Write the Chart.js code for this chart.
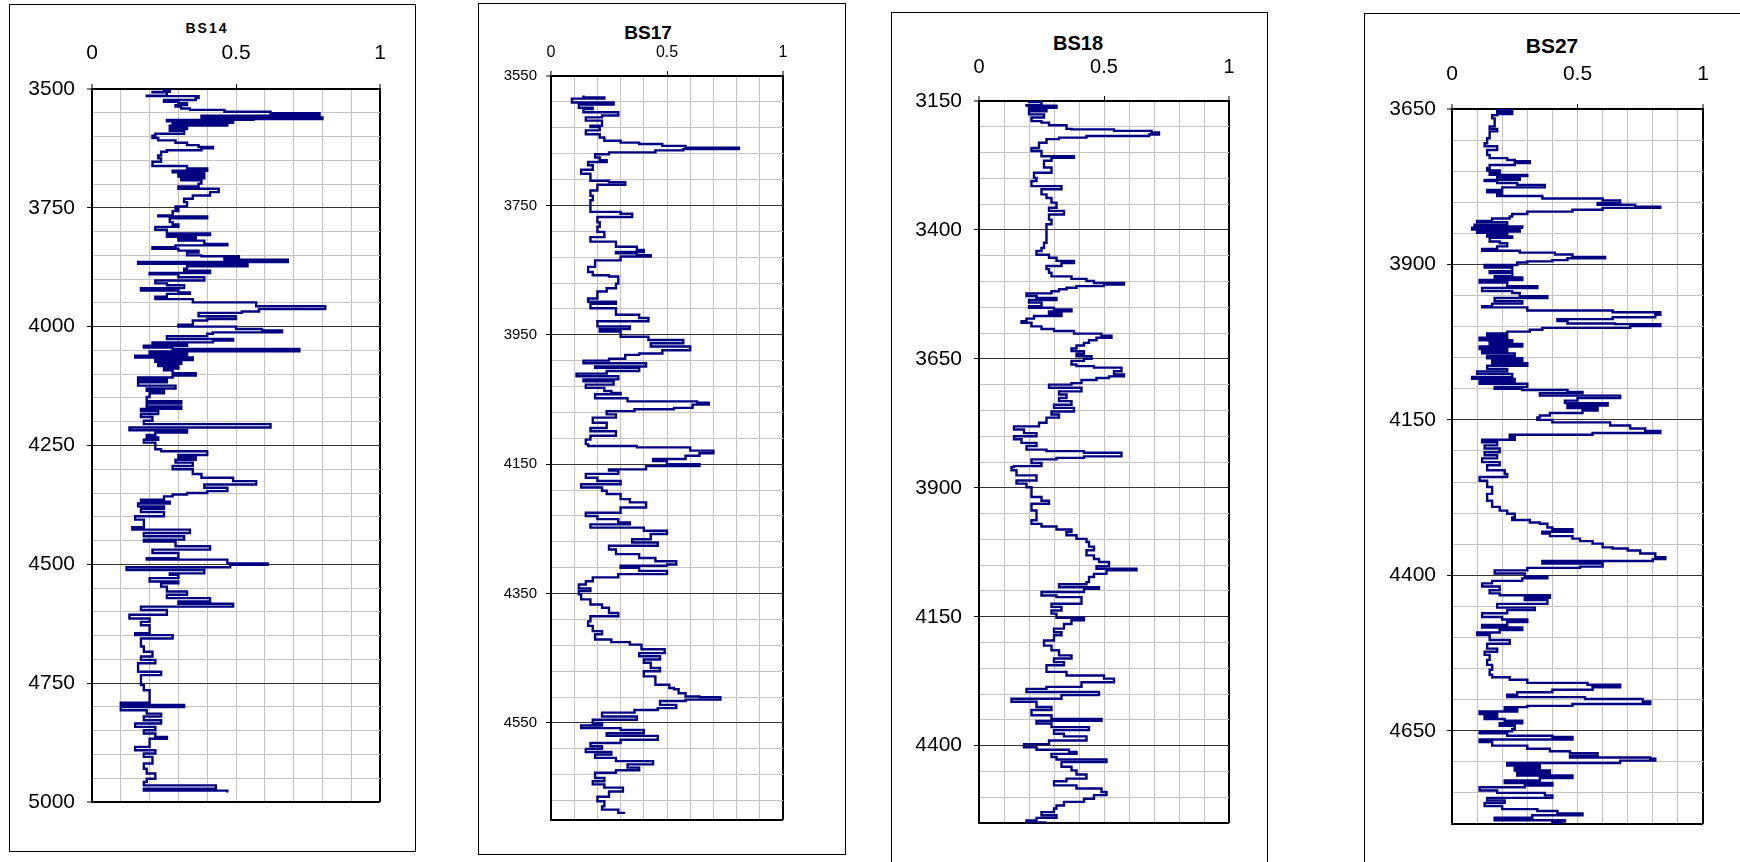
<!DOCTYPE html>
<html>
<head>
<meta charset="utf-8">
<script src="https://cdn.jsdelivr.net/npm/chart.js@4.4.1/dist/chart.umd.min.js"></script>
<style>
  html, body { margin: 0; padding: 0; background: #fff; }
  body { width: 1740px; height: 862px; position: relative; overflow: hidden; font-family: "Liberation Sans", Arial, sans-serif; }
  .box { position: absolute; border: 1px solid #000; box-sizing: border-box; }
  .wrap { position: absolute; }
  .ttl { position: absolute; font-weight: bold; color: #000; transform: translate(-50%, -50%); white-space: nowrap; line-height: 1; }
</style>
</head>
<body>
<div class="box" style="left:9px;top:4px;width:407px;height:848px"></div>
<div class="box" style="left:478px;top:3px;width:368px;height:852px"></div>
<div class="box" style="left:891px;top:12px;width:377px;height:900px"></div>
<div class="box" style="left:1364px;top:13px;width:500px;height:900px"></div>

<div class="ttl" style="left:207px;top:28px;font-size:14px;letter-spacing:2px">BS14</div>
<div class="ttl" style="left:648px;top:32px;font-size:19px">BS17</div>
<div class="ttl" style="left:1078px;top:43px;font-size:20px">BS18</div>
<div class="ttl" style="left:1552px;top:45px;font-size:21px">BS27</div>

<div class="wrap" style="left:10px;top:5px;width:404px;height:845px"><canvas id="c14"></canvas></div>
<div class="wrap" style="left:479px;top:4px;width:365px;height:850px"><canvas id="c17"></canvas></div>
<div class="wrap" style="left:892px;top:13px;width:374px;height:849px"><canvas id="c18"></canvas></div>
<div class="wrap" style="left:1365px;top:14px;width:375px;height:848px"><canvas id="c27"></canvas></div>

<script>
// value axis (shared by all four logs)
const valueGrid = [0, 0.1, 0.2, 0.3, 0.4, 0.5, 0.6, 0.7, 0.8, 0.9, 1];
const valueLabels = [0, 0.5, 1];

// BS14
const bs14Depth = [3500,3503,3506,3507,3514,3515,3519,3523,3527,3530,3534,3537,3541,3544,3548,3551,3556,3560,3563,3565,3568,3571,3574,3577,3580,3584,3588,3594,3598,3603,3608,3613,3618,3622,3625,3629,3632,3640,3646,3653,3662,3667,3672,3675,3680,3684,3688,3692,3699,3705,3710,3717,3724,3731,3738,3747,3752,3757,3766,3768,3772,3780,3785,3790,3796,3804,3807,3811,3815,3819,3826,3829,3833,3836,3840,3844,3850,3852,3855,3859,3864,3868,3873,3878,3882,3887,3890,3896,3903,3909,3913,3919,3924,3928,3931,3937,3942,3949,3957,3963,3968,3971,3978,3984,3987,3996,4000,4005,4008,4012,4015,4020,4026,4029,4033,4037,4040,4044,4047,4052,4056,4061,4065,4070,4074,4078,4083,4088,4092,4098,4103,4107,4112,4117,4124,4130,4135,4140,4148,4157,4162,4168,4173,4178,4184,4190,4198,4205,4212,4218,4223,4228,4233,4238,4244,4258,4262,4270,4275,4280,4286,4293,4300,4310,4318,4325,4332,4339,4346,4350,4353,4357,4364,4368,4372,4378,4383,4390,4399,4406,4422,4427,4434,4441,4448,4452,4462,4469,4476,4487,4490,4498,4501,4506,4512,4519,4522,4529,4536,4540,4547,4557,4564,4571,4578,4583,4589,4596,4606,4614,4621,4628,4645,4649,4656,4673,4684,4694,4701,4708,4726,4733,4754,4765,4791,4796,4800,4807,4814,4820,4828,4835,4842,4849,4856,4863,4867,4884,4891,4898,4905,4919,4930,4940,4951,4958,4965,4972,4976,4980];
const bs14Value = [0.25,0.27,0.21,0.26,0.19,0.37,0.36,0.25,0.30,0.33,0.29,0.31,0.34,0.46,0.62,0.79,0.38,0.80,0.56,0.26,0.49,0.28,0.47,0.27,0.33,0.27,0.32,0.22,0.21,0.23,0.29,0.33,0.37,0.42,0.38,0.26,0.24,0.23,0.24,0.21,0.33,0.40,0.28,0.39,0.30,0.39,0.31,0.38,0.37,0.30,0.44,0.41,0.35,0.32,0.33,0.29,0.30,0.28,0.23,0.40,0.27,0.28,0.30,0.22,0.26,0.41,0.26,0.36,0.30,0.39,0.47,0.29,0.21,0.30,0.37,0.33,0.38,0.51,0.46,0.68,0.16,0.54,0.33,0.32,0.41,0.20,0.30,0.39,0.22,0.26,0.32,0.17,0.30,0.34,0.26,0.22,0.35,0.57,0.81,0.58,0.52,0.37,0.50,0.40,0.35,0.30,0.50,0.59,0.66,0.42,0.40,0.26,0.49,0.42,0.21,0.33,0.18,0.28,0.72,0.20,0.33,0.15,0.35,0.22,0.31,0.23,0.30,0.25,0.28,0.36,0.28,0.16,0.26,0.16,0.29,0.19,0.25,0.20,0.19,0.31,0.19,0.31,0.17,0.23,0.17,0.21,0.18,0.62,0.13,0.33,0.22,0.19,0.23,0.18,0.22,0.24,0.40,0.30,0.36,0.29,0.35,0.28,0.35,0.38,0.49,0.57,0.39,0.47,0.40,0.33,0.28,0.25,0.17,0.27,0.16,0.25,0.17,0.25,0.15,0.18,0.14,0.34,0.18,0.32,0.18,0.29,0.41,0.21,0.30,0.19,0.47,0.61,0.48,0.12,0.39,0.27,0.30,0.20,0.30,0.24,0.26,0.33,0.26,0.41,0.30,0.49,0.17,0.26,0.13,0.20,0.17,0.20,0.15,0.28,0.17,0.18,0.21,0.17,0.22,0.16,0.24,0.17,0.18,0.20,0.10,0.32,0.10,0.19,0.24,0.18,0.24,0.15,0.22,0.18,0.22,0.26,0.20,0.15,0.22,0.18,0.21,0.18,0.19,0.22,0.19,0.18,0.43,0.18,0.47,0.47];
const bs14DepthLabels = [3500, 3750, 4000, 4250, 4500, 4750, 5000];

// BS17
const bs17Depth = [3580,3583,3585,3591,3594,3599,3601,3606,3611,3614,3619,3627,3629,3634,3640,3645,3650,3653,3655,3658,3661,3663,3665,3668,3671,3676,3680,3683,3688,3695,3701,3712,3714,3718,3727,3735,3742,3760,3763,3768,3776,3783,3791,3799,3806,3814,3819,3822,3824,3827,3829,3835,3845,3853,3858,3860,3871,3878,3883,3894,3899,3902,3909,3919,3924,3929,3937,3941,3945,3953,3958,3963,3968,3974,3979,3981,3987,3990,3994,3999,4001,4006,4010,4014,4019,4022,4027,4032,4037,4040,4042,4048,4053,4055,4058,4063,4065,4068,4073,4078,4086,4094,4099,4106,4112,4119,4122,4124,4129,4133,4137,4142,4145,4150,4153,4158,4160,4165,4171,4176,4181,4186,4191,4196,4204,4209,4217,4225,4230,4235,4240,4243,4248,4253,4258,4266,4271,4276,4282,4289,4295,4300,4305,4307,4310,4315,4320,4325,4331,4336,4342,4346,4351,4359,4367,4372,4380,4385,4393,4400,4408,4413,4421,4425,4429,4436,4442,4447,4452,4457,4465,4470,4478,4491,4496,4498,4504,4509,4510,4514,4516,4522,4527,4530,4534,4540,4545,4550,4554,4558,4561,4566,4570,4576,4581,4586,4590,4595,4599,4604,4609,4614,4619,4623,4627,4635,4640,4645,4650,4656,4664,4671,4679,4684,4689];
const bs17Value = [0.14,0.23,0.09,0.27,0.12,0.18,0.14,0.29,0.22,0.15,0.22,0.17,0.21,0.15,0.21,0.23,0.30,0.38,0.48,0.58,0.81,0.57,0.45,0.25,0.19,0.21,0.24,0.16,0.18,0.13,0.17,0.25,0.32,0.20,0.17,0.18,0.17,0.30,0.35,0.20,0.21,0.20,0.23,0.17,0.28,0.37,0.40,0.28,0.37,0.43,0.30,0.19,0.16,0.18,0.25,0.29,0.28,0.24,0.20,0.16,0.28,0.17,0.28,0.38,0.42,0.20,0.34,0.21,0.30,0.42,0.57,0.43,0.60,0.48,0.38,0.32,0.25,0.14,0.41,0.19,0.38,0.24,0.11,0.29,0.14,0.27,0.15,0.23,0.26,0.30,0.19,0.33,0.63,0.68,0.61,0.53,0.36,0.24,0.28,0.18,0.24,0.17,0.28,0.17,0.15,0.16,0.37,0.60,0.70,0.64,0.58,0.44,0.50,0.64,0.41,0.25,0.29,0.15,0.20,0.30,0.13,0.22,0.24,0.30,0.34,0.41,0.30,0.15,0.20,0.29,0.34,0.17,0.40,0.50,0.43,0.35,0.46,0.25,0.28,0.38,0.45,0.54,0.50,0.30,0.38,0.50,0.29,0.18,0.15,0.12,0.17,0.12,0.13,0.17,0.22,0.25,0.29,0.17,0.16,0.18,0.22,0.19,0.26,0.34,0.39,0.49,0.38,0.47,0.40,0.43,0.47,0.40,0.45,0.51,0.53,0.55,0.58,0.64,0.73,0.58,0.47,0.54,0.46,0.36,0.22,0.37,0.18,0.22,0.13,0.30,0.40,0.24,0.46,0.30,0.17,0.22,0.15,0.26,0.19,0.28,0.44,0.33,0.38,0.28,0.19,0.23,0.18,0.23,0.31,0.25,0.20,0.23,0.22,0.29,0.32];
const bs17DepthLabels = [3550, 3750, 3950, 4150, 4350, 4550];

// BS18
const bs18Depth = [3150,3152,3158,3159,3163,3166,3170,3176,3182,3189,3192,3197,3204,3205,3208,3211,3215,3218,3221,3224,3231,3241,3247,3257,3260,3266,3279,3289,3299,3305,3315,3321,3331,3338,3347,3357,3363,3370,3380,3389,3425,3435,3441,3448,3454,3460,3464,3470,3476,3483,3490,3495,3499,3503,3506,3509,3512,3515,3519,3523,3528,3532,3536,3541,3548,3551,3554,3558,3562,3567,3572,3577,3580,3587,3592,3596,3601,3605,3609,3614,3619,3624,3630,3635,3640,3645,3650,3654,3661,3664,3667,3674,3680,3684,3687,3691,3697,3700,3706,3713,3719,3726,3732,3739,3745,3752,3758,3764,3774,3781,3787,3794,3800,3806,3813,3819,3826,3829,3832,3839,3842,3845,3852,3858,3860,3866,3876,3886,3892,3899,3918,3925,3931,3944,3963,3970,3975,3981,3986,3992,3999,4005,4014,4021,4031,4038,4044,4052,4057,4060,4067,4073,4083,4087,4093,4096,4102,4109,4112,4125,4131,4138,4144,4152,4157,4164,4173,4180,4186,4196,4206,4215,4225,4231,4238,4244,4257,4264,4270,4277,4286,4290,4296,4302,4309,4315,4325,4331,4341,4348,4352,4357,4364,4370,4377,4382,4390,4397,4403,4408,4412,4416,4422,4427,4432,4441,4448,4456,4464,4469,4477,4483,4490,4496,4503,4509,4516,4522,4529,4535,4540,4545,4549];
const bs18Value = [0.20,0.25,0.19,0.31,0.20,0.27,0.20,0.26,0.21,0.25,0.28,0.35,0.37,0.54,0.69,0.72,0.68,0.43,0.32,0.27,0.24,0.21,0.25,0.38,0.29,0.26,0.29,0.22,0.23,0.21,0.33,0.25,0.27,0.29,0.31,0.28,0.34,0.28,0.29,0.27,0.26,0.25,0.23,0.28,0.31,0.38,0.33,0.27,0.28,0.29,0.37,0.43,0.46,0.58,0.50,0.39,0.35,0.32,0.29,0.19,0.23,0.31,0.20,0.25,0.20,0.30,0.37,0.28,0.33,0.22,0.19,0.17,0.21,0.25,0.30,0.38,0.49,0.53,0.47,0.44,0.42,0.39,0.37,0.42,0.39,0.45,0.42,0.37,0.39,0.46,0.57,0.54,0.58,0.52,0.47,0.41,0.37,0.28,0.41,0.32,0.35,0.32,0.37,0.30,0.38,0.29,0.32,0.27,0.24,0.14,0.18,0.23,0.14,0.17,0.23,0.19,0.27,0.42,0.57,0.42,0.31,0.21,0.25,0.14,0.13,0.15,0.23,0.15,0.19,0.21,0.25,0.28,0.21,0.23,0.21,0.25,0.31,0.37,0.35,0.39,0.43,0.44,0.46,0.43,0.46,0.48,0.52,0.47,0.63,0.51,0.46,0.44,0.43,0.32,0.48,0.42,0.25,0.31,0.41,0.29,0.33,0.29,0.31,0.42,0.37,0.34,0.30,0.33,0.30,0.26,0.29,0.32,0.37,0.30,0.34,0.27,0.35,0.50,0.54,0.41,0.27,0.19,0.48,0.33,0.13,0.23,0.29,0.21,0.29,0.49,0.23,0.29,0.44,0.30,0.34,0.43,0.28,0.18,0.23,0.36,0.39,0.29,0.31,0.51,0.33,0.37,0.39,0.43,0.35,0.30,0.39,0.49,0.51,0.46,0.42,0.34,0.31,0.30,0.25,0.31,0.23,0.19,0.27];
const bs18DepthLabels = [3150, 3400, 3650, 3900, 4150, 4400];

// BS27
const bs27Depth = [3650,3652,3655,3658,3660,3665,3678,3682,3686,3697,3705,3710,3716,3724,3729,3732,3734,3737,3740,3745,3749,3753,3756,3758,3761,3764,3766,3769,3772,3776,3780,3784,3787,3790,3794,3797,3801,3804,3807,3809,3812,3815,3819,3823,3826,3830,3832,3836,3839,3841,3844,3847,3849,3852,3855,3857,3863,3866,3871,3875,3878,3881,3884,3888,3890,3893,3895,3897,3901,3905,3911,3914,3919,3921,3925,3929,3935,3938,3943,3946,3951,3954,3959,3963,3967,3969,3974,3977,3981,3985,3988,3991,3995,3996,3999,4002,4005,4008,4011,4015,4018,4022,4026,4028,4032,4036,4040,4043,4047,4051,4055,4059,4063,4068,4072,4076,4081,4084,4088,4092,4097,4100,4102,4105,4107,4111,4115,4119,4123,4127,4131,4135,4139,4143,4146,4150,4154,4159,4164,4168,4171,4174,4178,4182,4186,4191,4196,4202,4207,4212,4218,4223,4231,4237,4242,4248,4258,4269,4280,4290,4296,4301,4307,4311,4315,4317,4323,4326,4330,4333,4337,4341,4345,4349,4355,4357,4360,4365,4371,4374,4377,4381,4386,4388,4392,4397,4402,4405,4409,4413,4418,4424,4429,4432,4436,4440,4446,4452,4456,4461,4467,4471,4475,4480,4484,4488,4492,4496,4504,4510,4518,4523,4528,4536,4544,4552,4560,4564,4568,4573,4576,4580,4584,4588,4592,4596,4599,4603,4607,4610,4612,4615,4619,4623,4627,4631,4634,4638,4642,4647,4651,4654,4658,4660,4664,4668,4674,4679,4683,4686,4690,4693,4695,4698,4702,4706,4710,4714,4718,4722,4726,4730,4734,4738,4741,4746,4750,4754,4758,4762,4766,4771,4776,4779,4783,4786,4790,4794,4796,4799];
const bs27Value = [0.24,0.18,0.24,0.18,0.16,0.17,0.15,0.18,0.15,0.14,0.13,0.18,0.14,0.15,0.22,0.25,0.31,0.25,0.15,0.14,0.19,0.15,0.30,0.18,0.27,0.13,0.18,0.26,0.37,0.20,0.14,0.20,0.18,0.36,0.60,0.67,0.58,0.73,0.83,0.60,0.48,0.30,0.24,0.23,0.16,0.10,0.22,0.09,0.28,0.08,0.27,0.10,0.22,0.14,0.24,0.15,0.19,0.22,0.18,0.12,0.27,0.41,0.48,0.61,0.46,0.40,0.30,0.26,0.13,0.24,0.15,0.24,0.17,0.28,0.11,0.22,0.34,0.12,0.24,0.27,0.38,0.17,0.28,0.16,0.12,0.30,0.64,0.83,0.81,0.64,0.42,0.46,0.65,0.83,0.71,0.36,0.31,0.22,0.14,0.22,0.11,0.24,0.15,0.28,0.11,0.22,0.12,0.25,0.14,0.28,0.16,0.30,0.14,0.22,0.10,0.24,0.08,0.25,0.11,0.30,0.17,0.28,0.46,0.52,0.35,0.67,0.50,0.45,0.62,0.46,0.58,0.52,0.39,0.35,0.34,0.40,0.63,0.71,0.77,0.83,0.56,0.23,0.25,0.12,0.18,0.13,0.19,0.13,0.18,0.12,0.19,0.14,0.21,0.22,0.11,0.14,0.16,0.14,0.16,0.19,0.22,0.25,0.24,0.31,0.35,0.38,0.40,0.48,0.36,0.39,0.48,0.51,0.56,0.60,0.64,0.70,0.75,0.81,0.85,0.80,0.36,0.60,0.51,0.30,0.17,0.29,0.38,0.28,0.16,0.12,0.19,0.15,0.19,0.39,0.29,0.38,0.18,0.33,0.22,0.12,0.20,0.30,0.22,0.12,0.28,0.19,0.10,0.15,0.23,0.14,0.18,0.13,0.15,0.14,0.16,0.15,0.16,0.23,0.30,0.54,0.67,0.56,0.40,0.26,0.22,0.53,0.76,0.79,0.48,0.30,0.21,0.26,0.11,0.18,0.13,0.21,0.28,0.19,0.25,0.24,0.11,0.22,0.40,0.48,0.11,0.16,0.30,0.39,0.47,0.58,0.47,0.79,0.81,0.67,0.22,0.35,0.25,0.39,0.26,0.48,0.35,0.21,0.40,0.29,0.11,0.18,0.37,0.40,0.14,0.21,0.13,0.20,0.34,0.42,0.52,0.32,0.17,0.45,0.40,0.44];
const bs27DepthLabels = [3650, 3900, 4150, 4400, 4650];

// layout of each log track (pixels inside its canvas)
const panels = [
  { id: 'c14', depth: bs14Depth, value: bs14Value, labels: bs14DepthLabels, min: 3500, max: 5000, step: 50,
    yW: 82, xH: 84, padR: 34, padB: 48, xFont: 21, yFont: 21, xPad: 18, yPad: 12 },
  { id: 'c17', depth: bs17Depth, value: bs17Value, labels: bs17DepthLabels, min: 3550, max: 4700, step: 40,
    yW: 72, xH: 72, padR: 61, padB: 34, xFont: 16, yFont: 15, xPad: 9, yPad: 9 },
  { id: 'c18', depth: bs18Depth, value: bs18Value, labels: bs18DepthLabels, min: 3150, max: 4550, step: 50,
    yW: 87, xH: 88, padR: 37, padB: 39, xFont: 20, yFont: 21, xPad: 17, yPad: 12 },
  { id: 'c27', depth: bs27Depth, value: bs27Value, labels: bs27DepthLabels, min: 3650, max: 4800, step: 50,
    yW: 87, xH: 95, padR: 37, padB: 38, xFont: 21, yFont: 21, xPad: 17, yPad: 11 }
];

Chart.defaults.font.family = '"Liberation Sans", Arial, sans-serif';
Chart.defaults.color = '#000';

const MINOR = '#c4c4c4';
const MAJOR = '#333';

function depthTicks(p) {
  const t = [];
  for (let v = p.min; v < p.max; v += p.step) t.push(v);
  t.push(p.max);
  return t;
}

panels.forEach(p => {
  const yTicks = depthTicks(p);
  const isEdgeY = v => v === p.min || v === p.max;
  const isEdgeX = v => v === 0 || v === 1;

  new Chart(document.getElementById(p.id), {
    type: 'scatter',
    data: {
      datasets: [{
        data: p.depth.map((d, i) => ({ x: p.value[i], y: d })),
        showLine: true,
        stepped: 'after',
        borderColor: '#000080',
        borderWidth: 2.4,
        pointRadius: 0,
        pointHoverRadius: 0,
        fill: false
      }]
    },
    options: {
      responsive: true,
      maintainAspectRatio: false,
      animation: false,
      events: [],
      layout: { padding: { left: 0, top: 0, right: p.padR, bottom: p.padB } },
      plugins: { legend: { display: false }, tooltip: { enabled: false } },
      scales: {
        x: {
          type: 'linear',
          position: 'top',
          min: 0,
          max: 1,
          afterBuildTicks: s => { s.ticks = valueGrid.map(v => ({ value: v })); },
          afterFit: s => { s.height = p.xH; },
          ticks: {
            autoSkip: false, maxRotation: 0, minRotation: 0,
            padding: p.xPad,
            font: { size: p.xFont },
            callback: v => valueLabels.includes(v) ? String(v) : ''
          },
          grid: {
            color: c => (c.tick && isEdgeX(c.tick.value)) ? '#000' : MINOR,
            lineWidth: c => (c.tick && isEdgeX(c.tick.value)) ? 2 : 1,
            tickLength: 5,
            tickColor: c => (c.tick && valueLabels.includes(c.tick.value)) ? '#000' : 'rgba(0,0,0,0)',
            tickWidth: 1
          },
          border: { color: '#000', width: 2 }
        },
        y: {
          type: 'linear',
          reverse: true,
          min: p.min,
          max: p.max,
          afterBuildTicks: s => { s.ticks = yTicks.map(v => ({ value: v })); },
          afterFit: s => { s.width = p.yW; },
          ticks: {
            autoSkip: false,
            padding: p.yPad,
            font: { size: p.yFont },
            callback: v => p.labels.includes(v) ? String(v) : ''
          },
          grid: {
            color: c => {
              if (!c.tick) return MINOR;
              if (isEdgeY(c.tick.value)) return '#000';
              return p.labels.includes(c.tick.value) ? MAJOR : MINOR;
            },
            lineWidth: c => (c.tick && isEdgeY(c.tick.value)) ? 2 : 1,
            tickLength: 5,
            tickColor: c => (c.tick && p.labels.includes(c.tick.value)) ? '#000' : 'rgba(0,0,0,0)',
            tickWidth: 1
          },
          border: { color: '#000', width: 2 }
        }
      }
    }
  });
});
</script>
</body>
</html>
